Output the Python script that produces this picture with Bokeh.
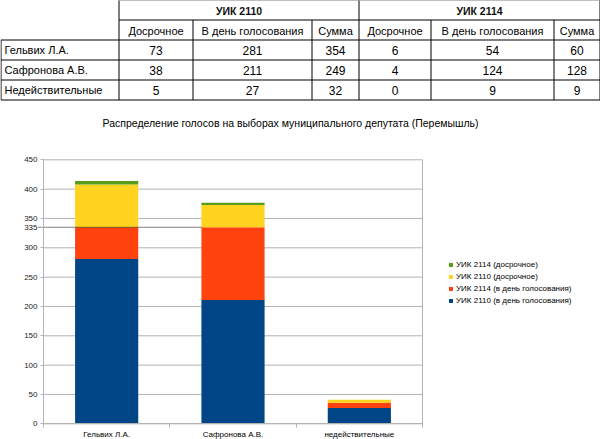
import numpy as np
from bokeh.plotting import figure
from bokeh.models import Range1d, FixedTicker, Legend, LegendItem, ColumnDataSource
from bokeh.embed import file_html
from bokeh.resources import INLINE
from bokeh.core.properties import value

# ---------------- data ----------------
row_labels = ["Гельвих Л.А.", "Сафронова А.В.", "Недействительные"]
chart_categories = ["Гельвих Л.А.", "Сафронова А.В.", "недействительные"]
uik2110_early = [73, 38, 5]
uik2110_day = [281, 211, 27]
uik2110_total = [354, 249, 32]
uik2114_early = [6, 4, 0]
uik2114_day = [54, 124, 9]
uik2114_total = [60, 128, 9]
table_groups = ["УИК 2110", "УИК 2114"]
table_columns = ["Досрочное", "В день голосования", "Сумма"]
series_labels = ["УИК 2110 (в день голосования)", "УИК 2114 (в день голосования)",
                 "УИК 2110 (досрочное)", "УИК 2114 (досрочное)"]
y_ticks = [0, 50, 100, 150, 200, 250, 300, 350, 400, 450]
title_text = "Распределение голосов на выборах муниципального депутата (Перемышль)"

# ---------------- layout constants (pixels) ----------------
FONT = "Liberation Sans"
W, H = 600, 439
PL, PR, PT, PB = 43.0, 422.0, 159.3, 423.3     # chart plot area in page pixels
YMAX = 450.0
NCAT = len(chart_categories)
sx = (PR - PL) / NCAT
sy = (PB - PT) / YMAX
x_range = Range1d(-PL / sx, NCAT + (W - PR) / sx)
y_range = Range1d(-(H - PB) / sy, PB / sy)

p = figure(width=W, height=H, x_range=x_range, y_range=y_range, title=None,
           output_backend="svg", toolbar_location=None, min_border=0)
p.outline_line_color = None
p.grid.visible = False
p.extra_x_ranges = {"px": Range1d(0, W)}
p.extra_y_ranges = {"px": Range1d(H, 0)}

# ---------------- table (pixel coordinates) ----------------
col_edges = [118.5, 192.5, 311.5, 358.5, 430.5, 553.5, 599.5]
row_edges = [-0.5, 19.5, 39.5, 59.5, 79.5, 99.5]

x0s, y0s, x1s, y1s = [], [], [], []
for i, y in enumerate(row_edges):
    xs = col_edges[0] if i < 2 else 0.5
    x0s.append(xs); x1s.append(col_edges[-1]); y0s.append(y); y1s.append(y)
for j, x in enumerate(col_edges):
    ys = row_edges[0] if j in (0, 3, 6) else row_edges[1]
    x0s.append(x); x1s.append(x); y0s.append(ys); y1s.append(row_edges[-1])
x0s.append(0.5); x1s.append(0.5); y0s.append(row_edges[2]); y1s.append(row_edges[-1])
p.segment(x0=x0s, y0=y0s, x1=x1s, y1=y1s, line_color="black", line_width=1,
          x_range_name="px", y_range_name="px")

gx = [(col_edges[0] + col_edges[3]) / 2, (col_edges[3] + col_edges[6]) / 2]
p.text(x=gx, y=[10] * 2, text=table_groups, text_align="center", text_baseline="middle",
       text_font=value(FONT), text_font_size="10.5px", text_font_style="bold", text_color="#111111",
       x_range_name="px", y_range_name="px")
centers = [(col_edges[k] + col_edges[k + 1]) / 2 for k in range(6)]
p.text(x=centers, y=[30] * 6, text=table_columns * 2, text_align="center", text_baseline="middle",
       text_font=value(FONT), text_font_size="11px", text_color="black",
       x_range_name="px", y_range_name="px")
row_y = [(row_edges[k] + row_edges[k + 1]) / 2 for k in range(2, 5)]
p.text(x=[4] * 3, y=row_y, text=row_labels, text_align="left", text_baseline="middle",
       text_font=value(FONT), text_font_size="11px", text_color="black",
       x_range_name="px", y_range_name="px")
cols_data = [uik2110_early, uik2110_day, uik2110_total, uik2114_early, uik2114_day, uik2114_total]
vx, vy, vt = [], [], []
for k, col in enumerate(cols_data):
    for r, v in enumerate(col):
        vx.append(centers[k]); vy.append(row_y[r]); vt.append(str(v))
p.text(x=vx, y=vy, text=vt, text_align="center", text_baseline="middle",
       text_font=value(FONT), text_font_size="12px", text_color="black",
       x_range_name="px", y_range_name="px")

# chart title
p.text(x=[290], y=[122], text=[title_text], text_align="center", text_baseline="middle",
       text_font=value(FONT), text_font_size="10.5px", text_color="black",
       x_range_name="px", y_range_name="px")

# ---------------- chart ----------------
p.segment(x0=[0] * len(y_ticks), x1=[NCAT] * len(y_ticks), y0=y_ticks, y1=y_ticks,
          line_color="#b3b3b3", line_width=1)
p.segment(x0=[NCAT], x1=[NCAT], y0=[0], y1=[YMAX], line_color="#b3b3b3", line_width=1)

xc = np.arange(NCAT) + 0.5
src = ColumnDataSource(dict(x=xc, d2110=uik2110_day, d2114=uik2114_day,
                            e2110=uik2110_early, e2114=uik2114_early))
colors = ["#004586", "#ff420e", "#ffd320", "#579d1c"]
rends = p.vbar_stack(["d2110", "d2114", "e2110", "e2114"], x="x", width=0.5,
                     color=colors, line_color=None, source=src)

threshold = uik2110_day[0] + uik2114_day[0]
p.segment(x0=[-0.04], y0=[threshold], x1=[xc[1] - 0.25], y1=[threshold],
          line_color="black", line_width=1, line_dash="1 1")

yax = p.yaxis[0]
yax.fixed_location = 0
yax.bounds = (0, YMAX)
yax.ticker = FixedTicker(ticks=y_ticks + [threshold])
yax.axis_line_color = "#b3b3b3"
yax.major_tick_line_color = "#b3b3b3"
yax.major_tick_out = 3
yax.major_tick_in = 0
yax.minor_tick_line_color = None
yax.major_label_text_font = FONT
yax.major_label_text_font_size = "8px"
yax.major_label_text_color = "#222222"
yax.major_label_standoff = 3

xax = p.xaxis[0]
xax.fixed_location = 0
xax.bounds = (0, NCAT)
xax.ticker = FixedTicker(ticks=list(xc), minor_ticks=list(range(NCAT + 1)))
xax.major_label_overrides = {float(x): lab for x, lab in zip(xc, chart_categories)}
xax.axis_line_color = "#b3b3b3"
xax.major_tick_out = 0
xax.major_tick_in = 0
xax.minor_tick_out = 4
xax.minor_tick_in = 0
xax.minor_tick_line_color = "#b3b3b3"
xax.major_label_text_font = FONT
xax.major_label_text_font_size = "8px"
xax.major_label_text_color = "black"
xax.major_label_standoff = 2

items = [LegendItem(label=series_labels[i], renderers=[rends[i]]) for i in (3, 2, 1, 0)]
legend = Legend(items=items, location=(448, H - 305), border_line_color=None,
                background_fill_alpha=0, padding=0, margin=0, spacing=3,
                glyph_width=5, glyph_height=5, label_height=8, label_standoff=3,
                label_text_font=FONT, label_text_font_size="8px", label_text_color="black")
p.add_layout(legend)

open("out.html", "w").write(file_html(p, INLINE))
